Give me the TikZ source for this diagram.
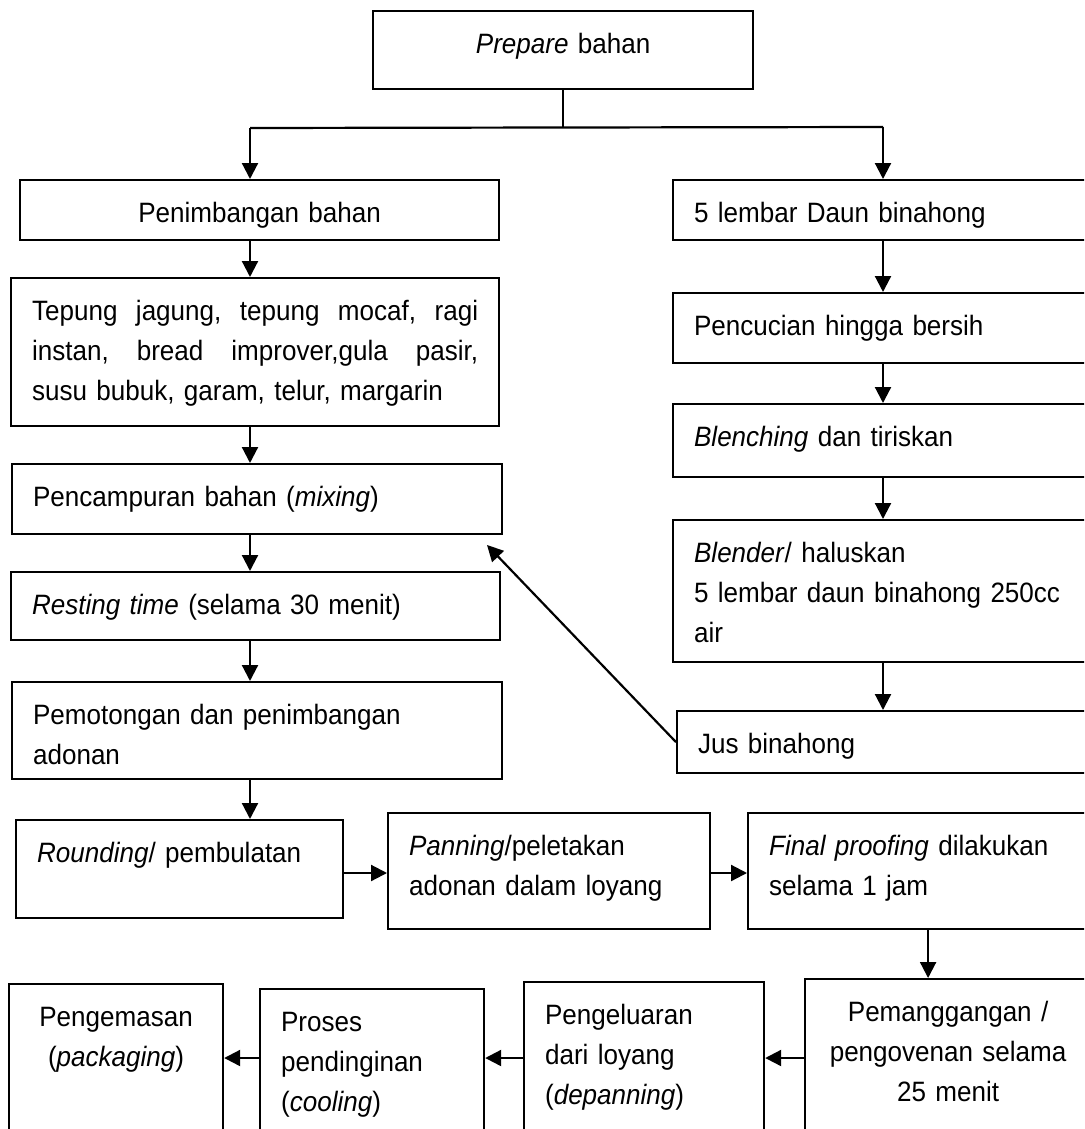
\documentclass[tikz,border=0pt]{standalone}
\usepackage{fontspec}
\setmainfont{Liberation Sans}[FakeStretch=0.93, WordSpace=0.85]
\usetikzlibrary{arrows.meta}
\tikzstyle{kotak}=[draw, line width=2.2pt, anchor=north west, inner xsep=21pt, inner ysep=0pt, text height=42pt, align=left, font=\fontsize{28}{40}\selectfont]
\tikzstyle{panah}=[line width=2.2pt, -{Triangle[length=16pt,width=16pt]}]

\begin{document}
\begin{tikzpicture}[x=1pt, y=-1pt]
    \useasboundingbox (0,0) rectangle (1084,1129);
    \clip (0,0) rectangle (1084,1129);
    \node[kotak, text width=338pt, text depth=36pt, align=center] (prep) at (372,10) {\textit{Prepare} bahan};
    \node[kotak, text width=437pt, text depth=18pt, align=center] (pen) at (19,179) {Penimbangan bahan};
    \node[kotak, text width=388pt, text depth=18pt] (daun) at (672,179) {5 lembar Daun binahong};
    \node[kotak, text width=446pt, text depth=106pt] (tep) at (10,277) {\makebox[446pt][s]{Tepung\hfill jagung,\hfill tepung\hfill mocaf,\hfill ragi}\\\makebox[446pt][s]{instan,\hfill bread\hfill improver,gula\hfill pasir,}\\susu bubuk, garam, telur, margarin};
    \node[kotak, text width=388pt, text depth=28pt] (cuci) at (672,292) {Pencucian hingga bersih};
    \node[kotak, text width=388pt, text depth=31pt] (blen) at (672,403) {\textit{Blenching} dan tiriskan};
    \node[kotak, text width=388pt, text depth=100pt] (blnd) at (672,519) {\textit{Blender}/ haluskan\\5 lembar daun binahong 250cc\\air};
    \node[kotak, text width=388pt, text depth=20pt] (jus) at (676,710) {Jus binahong};
    \node[kotak, text width=448pt, text depth=28pt] (mix) at (11,463) {Pencampuran bahan (\textit{mixing})};
    \node[kotak, text width=447pt, text depth=26pt] (rest) at (10,571) {\textit{Resting time} (selama 30 menit)};
    \node[kotak, text width=448pt, text depth=55pt] (potong) at (11,681) {Pemotongan dan penimbangan\\adonan};
    \node[kotak, text width=285pt, text depth=56pt] (round) at (15,819) {\textit{Rounding}/ pembulatan};
    \node[kotak, text width=280pt, text depth=74pt] (pan) at (387,812) {\textit{Panning}/peletakan\\adonan dalam loyang};
    \node[kotak, text width=318pt, text depth=74pt] (final) at (747,812) {\textit{Final proofing} dilakukan\\selama 1 jam};
    \node[kotak, text width=244pt, text depth=158pt, align=center] (oven) at (804,978) {Pemanggangan /\\pengovenan selama\\25 menit};
    \node[kotak, text width=198pt, text depth=158pt] (keluar) at (523,981) {Pengeluaran\\dari loyang\\(\textit{depanning})};
    \node[kotak, text width=182pt, text depth=158pt] (dingin) at (259,988) {Proses\\pendinginan\\(\textit{cooling})};
    \node[kotak, text width=172pt, text depth=158pt, align=center] (kemas) at (8,983) {Pengemasan\\(\textit{packaging})};

    \coordinate (kiri) at (250,128);
    \coordinate (kanan) at (883,127);
    \coordinate (masuk) at (487,545);
    \coordinate (baris) at (0,873);
    \coordinate (bawah) at (0,1058);

    \draw[line width=2.2pt] (prep.south) -- (prep.south |- kiri);
    \draw[line width=2.2pt] (kiri) -- (kanan);
    \draw[panah] (kiri) -- (kiri |- pen.north);
    \draw[panah] (kanan) -- (kanan |- daun.north);

    \draw[panah] (pen.south -| kiri) -- (tep.north -| kiri);
    \draw[panah] (tep.south -| kiri) -- (mix.north -| kiri);
    \draw[panah] (mix.south -| kiri) -- (rest.north -| kiri);
    \draw[panah] (rest.south -| kiri) -- (potong.north -| kiri);
    \draw[panah] (potong.south -| kiri) -- (round.north -| kiri);

    \draw[panah] (daun.south -| kanan) -- (cuci.north -| kanan);
    \draw[panah] (cuci.south -| kanan) -- (blen.north -| kanan);
    \draw[panah] (blen.south -| kanan) -- (blnd.north -| kanan);
    \draw[panah] (blnd.south -| kanan) -- (jus.north -| kanan);
    \draw[panah] (jus.west) -- (masuk);

    \draw[panah] (round.east |- baris) -- (pan.west |- baris);
    \draw[panah] (pan.east |- baris) -- (final.west |- baris);
    \draw[panah] (final.south) -- (final.south |- oven.north);
    \draw[panah] (oven.west |- bawah) -- (keluar.east |- bawah);
    \draw[panah] (keluar.west |- bawah) -- (dingin.east |- bawah);
    \draw[panah] (dingin.west |- bawah) -- (kemas.east |- bawah);
\end{tikzpicture}
\end{document}
